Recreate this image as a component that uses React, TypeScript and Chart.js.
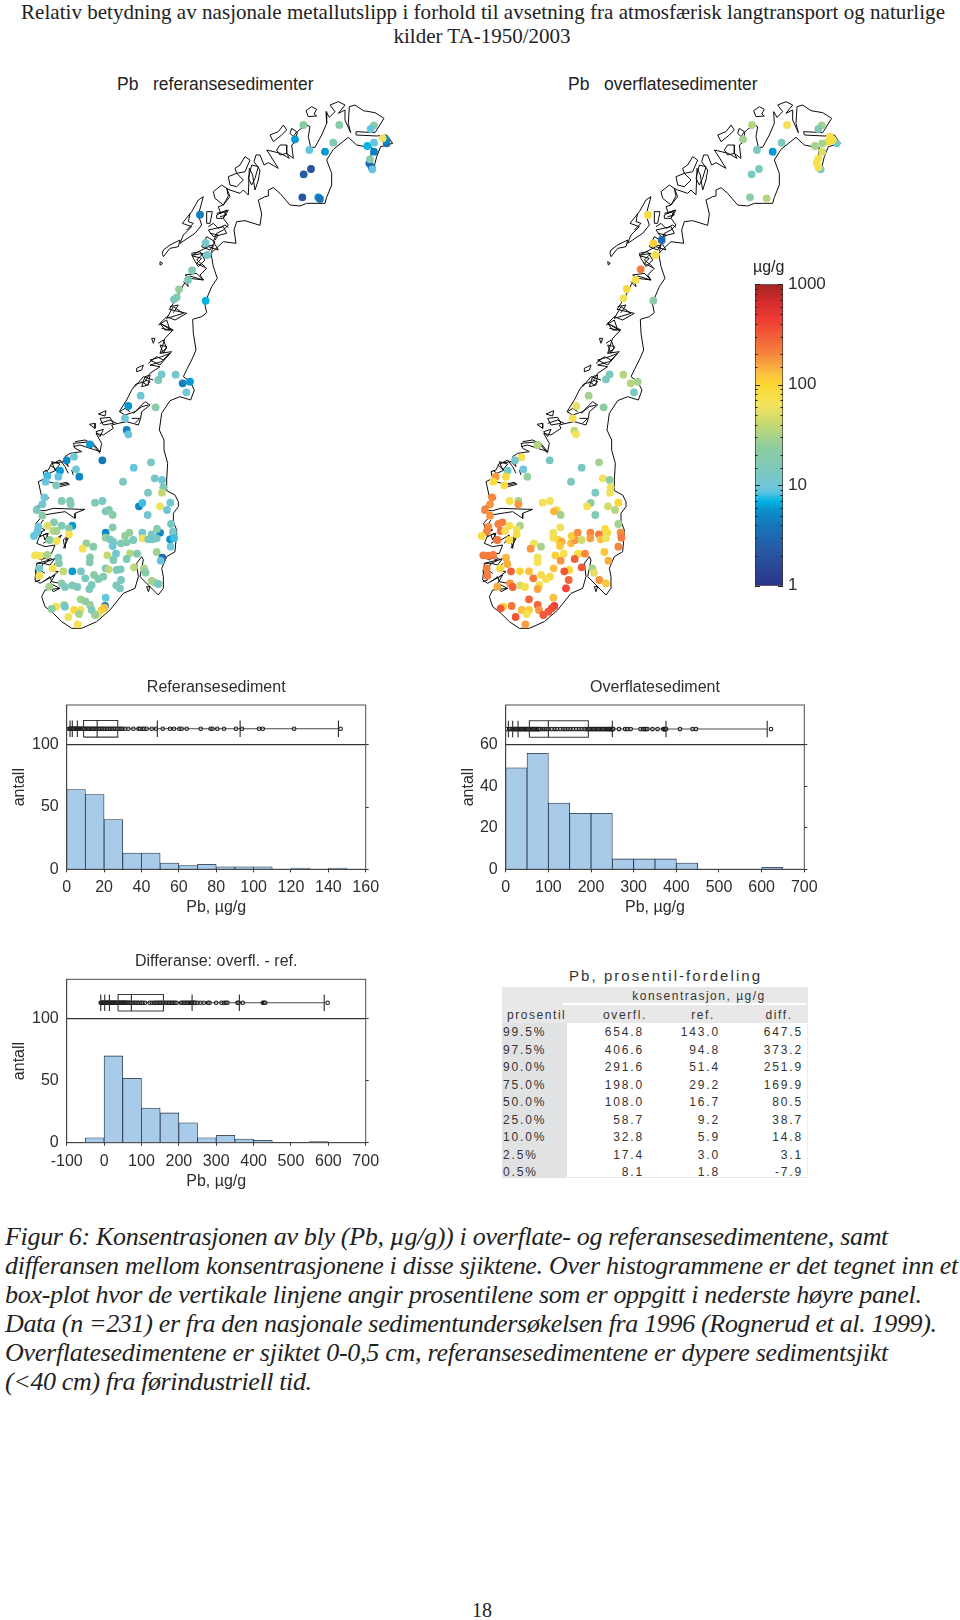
import React, { useEffect, useRef } from "react";
import { Chart, registerables } from "chart.js";
Chart.register(...registerables);

const SANS = '"Liberation Sans", Arial, sans-serif';
const SERIF = '"Liberation Serif", "Times New Roman", serif';
const INK = "#2e2e2e";

// ---------- text ----------
const titleLines = [
  "Relativ betydning av nasjonale metallutslipp i forhold til avsetning fra atmosfærisk langtransport og naturlige",
  "kilder TA-1950/2003",
];
const captionLines = [
  "Figur 6: Konsentrasjonen av bly (Pb, µg/g)) i overflate- og referansesedimentene, samt",
  "differansen mellom konsentrasjonene i disse sjiktene. Over histogrammene er det tegnet inn et",
  "box-plot hvor de vertikale linjene angir prosentilene som er oppgitt i nederste høyre panel.",
  "Data (n =231) er fra den nasjonale sedimentundersøkelsen fra 1996 (Rognerud et al. 1999).",
  "Overflatesedimentene er sjiktet 0-0,5 cm, referansesedimentene er dypere sedimentsjikt",
  "(<40 cm) fra førindustriell tid.",
];
const captionRightEdges = [888, 958, 921.7, 936.7, 888, 311.7];

// ---------- percentile table ----------
const tablePercentiles = ["99.5%", "97.5%", "90.0%", "75.0%", "50.0%", "25.0%", "10.0%", "2.5%", "0.5%"];
const tableOverfl = ["654.8", "406.6", "291.6", "198.0", "108.0", "58.7", "32.8", "17.4", "8.1"];
const tableRef = ["143.0", "94.8", "51.4", "29.2", "16.7", "9.2", "5.9", "3.0", "1.8"];
const tableDiff = ["647.5", "373.2", "251.9", "169.9", "80.5", "38.7", "14.8", "3.1", "-7.9"];

// ---------- histograms ----------
const refBinCenters = [5, 15, 25, 35, 45, 55, 65, 75, 85, 95, 105, 115, 125, 135, 145, 155];
const refCounts = [64, 60, 40, 13, 13, 5, 3, 4, 2, 2, 2, 0, 1, 0, 1, 0];
const surfBinCenters = [25, 75, 125, 175, 225, 275, 325, 375, 425, 475, 525, 575, 625, 675];
const surfCounts = [49, 56, 32, 27, 27, 5, 5, 5, 3, 0, 0, 0, 1, 0];
const diffBinCenters = [-75, -25, 25, 75, 125, 175, 225, 275, 325, 375, 425, 475, 525, 575, 625, 675];
const diffCounts = [0, 4, 70, 52, 28, 24, 16, 4, 6, 3, 2, 0, 0, 1, 0, 0];

// box plots: percentile bars, box [q1, q3], median, single samples
const refBars = [1.8, 3, 5.7, 48.5, 92.8, 145.4];
const refBox = [9, 27.3];
const refMedian = 16.3;
const refSamples = [1.2, 1.8, 2.2, 2.6, 3, 3.4, 3.8, 4.3, 4.7, 5.2, 5.6, 6.1, 6.6, 7.2, 7.8, 8.3, 8.9, 9.5, 10.1, 10.8, 11.5, 12.2, 12.9, 13.6, 14.3, 15, 15.8, 16.5, 17.3, 18.1, 19, 19.8, 20.7, 21.6, 22.4, 23.3, 24.2, 25.1, 26, 27, 28, 29, 30, 31.2, 33, 35.7, 38.4, 39.2, 40.7, 41.5, 42.8, 45.5, 47.8, 51.4, 55.3, 57.4, 60.3, 61.5, 64.2, 71.7, 77, 78, 80.6, 84.2, 90.6, 93.8, 102.9, 104.9, 121.7, 146.6];
const surfBars = [6.2, 16.4, 28.9, 250, 375.8, 613];
const surfBox = [55.5, 193.8];
const surfMedian = 100;
const surfSamples = [2, 8, 11, 14, 17, 20, 22, 24, 26, 28, 30, 32, 34, 36, 38, 40, 42, 44, 46, 48, 50, 52, 54, 56, 58, 60, 62, 64, 66, 68, 70, 72, 74, 76, 78, 80, 85, 90, 95, 100, 108, 115, 120, 128, 135, 140, 146, 152, 158, 165, 172, 178, 185, 190, 193, 196, 199, 202, 205, 208, 211, 214, 217, 220, 223, 226, 229, 232, 235, 238, 240, 242, 244, 246, 248, 249, 250, 251, 252, 265.6, 280, 285, 293, 316, 322, 326, 328, 332, 344, 356, 369.5, 371, 373, 374, 376, 408.6, 438, 446, 622];
const diffBars = [-8.9, 1.8, 14.3, 235.5, 362, 589];
const diffBox = [37.5, 158.8];
const diffMedian = 73;
const diffSamples = [-9, -7, -5, -3, -1, 0, 2, 4, 6, 8, 10, 12, 14, 16, 18, 20, 22, 24, 26, 28, 30, 32, 34, 36, 38, 40, 42, 44, 46, 48, 50, 52, 54, 56, 58, 60, 62, 65, 68, 71, 74, 78, 82, 86, 90, 95, 100, 104, 110, 122, 128, 134, 138, 142, 146, 150, 154, 158, 162, 166, 170, 174, 178, 182, 186, 190, 194, 206, 210, 214, 218, 222, 226, 230, 233, 236, 239, 241, 244, 250, 258, 267, 278, 282, 300, 314, 321, 326, 330, 357, 360, 371, 425, 428, 431, 598];

// ---------- colour scale (µg/g, log) ----------
const scaleStopPos = [0, 0.12, 0.2, 0.25, 0.28, 0.31, 0.33, 0.39, 0.46, 0.54, 0.6, 0.667, 0.7, 0.775, 0.88, 0.94, 1];
const scaleStopCol = ["#2b3488", "#2858a4", "#1577b9", "#0a8fcb", "#00b2e6", "#5cc3de", "#6fc7d8", "#7dc8b8", "#8fcda0", "#c8da70", "#f4e35c", "#fcd733", "#fbc43f", "#f6803d", "#ee3e34", "#d62b2b", "#a02626"];

function rgbOf(h: string) {
  return [parseInt(h.slice(1, 3), 16), parseInt(h.slice(3, 5), 16), parseInt(h.slice(5, 7), 16)];
}
function colorFor(v: number) {
  const t = Math.max(0, Math.min(1, Math.log10(v) / 3));
  let i = 0;
  while (i < scaleStopPos.length - 2 && t > scaleStopPos[i + 1]) i++;
  const f = (t - scaleStopPos[i]) / (scaleStopPos[i + 1] - scaleStopPos[i]);
  const a = rgbOf(scaleStopCol[i]);
  const b = rgbOf(scaleStopCol[i + 1]);
  return `rgb(${a.map((c, k) => Math.round(c + (b[k] - c) * f)).join(",")})`;
}

// ---------- map: [x, y, µg/g] in map units ----------
const refSites = [
  [880,105,22],[988,105,20],[855,148,6],[898,180,9],[945,185,6],[970,158,16],[903,237,2],[881,253,2.5],[877,322,2.2],[925,322,5.5],[930,327,4],[1092,106,22],[1082,117,9],[1130,160,3.5],[1128,150,5],[1118,145,60],[1092,158,9],[1072,168,7],[1092,185,4.5],[1078,220,3],[1085,232,3],[1080,208,20],[1087,238,9],[570,374,4.5],[587,459,12],[592,495,12],[546,541,16],[534,570,15],[507,598,25],[500,622,16],[492,628,15],[587,632,7],[455,853,11],[445,870,14],[497,854,11],[518,880,4.5],[540,875,6],[529,907,10],
  [392,917,10],[355,948,6],[437,952,20],[345,985,10],[350,1020,4.5],[355,1033,9],[240,1063,6],[192,1100,11],[170,1111,5],[277,1111,4],[423,1117,13],[150,1142,6],[198,1138,10],[371,1133,9],[208,1160,5],[112,1158,8],[145,1160,9],[107,1175,9],[139,1186,14],[339,1175,13],[434,1165,12],[456,1170,10],[460,1192,14],[414,1208,14],[456,1208,40],[103,1222,10],[155,1233,18],[180,1233,18],[182,1243,18],[97,1243,11],[255,1238,16],[277,1233,13],[387,1249,5],[397,1239,8],[450,1249,60],[481,1238,10],[471,1260,10],[80,1260,14],[287,1264,14],[297,1260,18],[308,1275,20],[413,1275,11],[97,1277,22],[483,1302,12],[132,1297,18],[113,1307,50],[155,1307,16],[187,1307,6],[177,1315,18],[85,1310,10],[82,1325,9],[308,1312,20],[287,1328,5.5],[397,1328,10],[450,1328,5],[441,1317,20],[425,1333,14],[489,1325,12],[490,1340,12],[72,1338,9],[130,1323,35],[140,1323,30],[177,1333,70],[119,1350,22],[140,1353,70],[229,1360,25],[250,1370,20],[287,1343,25],[300,1348,14],[310,1355,14],[333,1360,16],[350,1357,18],[345,1338,25],[358,1328,25],[370,1350,14],[398,1345,70],[415,1348,13],[428,1348,11],[440,1345,14],[480,1348,6],[492,1345,8],[482,1370,10],[308,1368,10],[218,1376,70],[292,1396,40],[318,1391,10],[360,1390,35],[381,1391,16],[440,1386,28],[75,1396,70],[90,1397,60],[112,1395,30],[145,1403,14],[240,1402,20],[310,1410,16],[350,1407,15],[457,1403,3],[452,1412,9],[147,1420,18],[239,1417,18],[88,1435,12],[128,1435,70],[372,1432,35],[402,1435,30],[160,1444,40],[187,1444,6],[213,1444,12],[287,1435,14],[296,1438,40],[320,1440,14],[332,1438,14],[407,1448,20],[252,1455,22],[280,1460,20],[88,1457,70],[226,1465,14],[265,1467,16],[333,1470,13],[425,1473,30],[435,1478,28],[445,1482,12],[155,1480,22],[165,1491,14],[187,1486,16],[202,1491,14],[245,1485,14],[238,1497,14],[319,1486,14],[330,1495,14],[118,1490,30],[287,1523,9],[212,1528,28],[226,1534,24],[240,1545,25],[285,1548,4],[162,1545,28],[138,1550,70],[125,1557,22],[165,1550,12],[192,1560,90],[212,1560,60],[245,1560,15],[283,1553,130],[275,1560,110],[265,1572,55],[207,1572,30],[175,1581,60],[255,1575,25],[203,1603,70],
];
const surfSites = [
  [876,105,35],[981,105,70],[849,148,28],[891,180,13],[938,185,6],[965,158,14],[897,237,14],[875,253,13],[870,322,22],[920,325,35],[1085,106,28],[1075,117,16],[1130,160,12],[1110,140,80],[1118,150,80],[1105,155,80],[1087,160,30],[1065,168,30],[1087,185,50],[1082,238,14],[1075,205,75],[1070,218,75],[1075,232,75],[564,375,90],[605,450,3],[580,460,110],[586,495,75],[542,538,220],[527,570,75],[500,597,85],[490,625,60],[580,632,22],[449,853,14],[438,868,13],[490,854,35],[512,880,35],[533,875,30],[522,907,14],
  [386,917,30],[349,948,55],[431,952,22],[338,985,70],[343,1022,40],[348,1033,65],[233,1065,35],[184,1102,75],[165,1111,11],[269,1111,12],[417,1117,30],[143,1142,12],[190,1138,10],[365,1133,13],[202,1160,25],[107,1160,180],[138,1160,90],[100,1175,85],[133,1186,85],[333,1175,14],[428,1165,65],[449,1170,22],[452,1192,60],[406,1208,13],[450,1208,60],[96,1222,200],[149,1233,75],[175,1233,30],[175,1243,180],[90,1243,180],[248,1238,70],[270,1233,65],[392,1239,22],[381,1249,70],[444,1249,45],[475,1238,100],[465,1260,35],[75,1260,200],[291,1260,60],[282,1264,140],[302,1275,30],[406,1275,18],[90,1277,180],[475,1302,30],[127,1297,210],[115,1302,210],[148,1307,70],[180,1307,30],[170,1318,60],[85,1310,190],[80,1325,210],[301,1312,60],[280,1328,60],[391,1328,200],[435,1317,85],[442,1328,85],[417,1333,220],[482,1328,190],[484,1343,230],[65,1338,80],[122,1323,240],[135,1323,70],[170,1333,85],[112,1350,240],[148,1350,85],[222,1360,60],[243,1370,30],[280,1343,70],[295,1350,90],[305,1355,150],[333,1360,130],[345,1350,180],[335,1338,110],[353,1328,190],[365,1350,45],[391,1345,170],[422,1348,130],[438,1345,60],[475,1370,200],[300,1368,120],[212,1376,180],[286,1396,110],[311,1391,75],[354,1391,85],[375,1391,200],[433,1386,120],[70,1396,220],[85,1397,220],[100,1395,220],[138,1403,140],[233,1402,60],[302,1412,180],[344,1407,300],[445,1412,150],[142,1422,150],[233,1417,70],[80,1435,220],[120,1435,90],[397,1435,30],[365,1432,320],[153,1444,290],[180,1444,100],[207,1444,130],[281,1435,130],[243,1455,80],[327,1440,100],[313,1444,320],[402,1448,55],[270,1460,85],[258,1467,70],[82,1457,220],[220,1465,220],[326,1470,280],[418,1470,180],[438,1480,120],[150,1480,180],[158,1491,290],[180,1486,50],[195,1491,75],[238,1485,70],[233,1497,160],[318,1495,400],[112,1490,150],[280,1523,130],[207,1528,280],[233,1545,290],[283,1548,430],[155,1548,240],[130,1550,110],[122,1555,320],[185,1560,130],[207,1560,110],[237,1560,180],[275,1555,380],[265,1565,340],[200,1572,75],[167,1581,330],[250,1575,320],[196,1603,170],
];

// ---------- map outline ----------
const mainland = [
  [445,1515],[460,1495],[460,1460],[455,1435],[470,1400],[495,1385],[498,1350],[500,1320],[490,1295],[490,1270],[505,1250],[505,1235],[495,1215],[470,1202],[470,1170],[473,1120],[462,1080],[462,1050],[448,1020],[455,970],[480,932],[510,920],[542,930],[553,900],[540,875],[520,860],[532,835],[545,810],[558,780],[550,730],[548,688],[575,680],[590,668],[584,640],[605,590],[622,565],[610,530],[603,490],[640,455],[678,460],[672,420],[680,395],[705,392],[750,406],[755,372],[745,330],[765,320],[775,318],[775,300],[790,293],[810,310],[840,345],[870,348],[890,340],[945,340],[950,322],[965,285],[965,250],[950,210],[970,178],[1015,142],[1040,165],[1065,170],[1085,172],[1082,205],[1090,240],[1100,200],[1112,170],[1148,160],[1130,135],[1100,138],[1040,135],[1038,125],[1095,128],[1122,85],[1095,68],[1060,62],[1035,45],[1018,50],[1015,100],[1022,128],[1005,90],[1005,60],[985,70],[1005,45],[985,35],[960,45],[975,65],[958,82],[948,65],[950,100],[935,135],[915,172],[902,172],[895,140],[900,110],[890,105],[870,118],[862,125],[858,145],[865,150],[845,165],[850,205],[830,190],[838,205],[812,190],[770,180],[780,195],[805,235],[775,218],[762,225],[750,195],[738,195],[732,215],[750,240],[745,270],[735,300],[728,255],[718,235],[715,315],[700,300],[690,310],[660,300],[650,295],[655,318],[640,345],[625,350],[632,370],[655,360],[640,385],[655,405],[640,420],[620,430],[610,455],[625,480],[595,470],[560,488],[545,497],[575,505],[560,520],[590,535],[570,555],[580,570],[540,558],[520,585],[505,615],[490,640],[478,658],[530,670],[495,690],[470,680],[450,700],[487,722],[465,745],[450,790],[485,785],[455,815],[420,825],[450,830],[420,850],[405,875],[378,882],[365,900],[350,930],[328,965],[345,975],[375,965],[405,935],[420,945],[395,965],[392,985],[385,1005],[350,995],[325,1000],[305,1005],[310,1015],[280,1035],[258,1030],[275,1060],[270,1085],[245,1055],[190,1060],[195,1075],[215,1085],[180,1090],[165,1100],[175,1130],[160,1115],[125,1120],[115,1140],[100,1145],[105,1165],[85,1175],[95,1220],[115,1222],[90,1250],[72,1262],[105,1262],[130,1255],[210,1258],[225,1258],[195,1270],[195,1285],[165,1265],[100,1275],[78,1300],[90,1340],[95,1325],[80,1360],[105,1370],[135,1365],[125,1390],[75,1395],[120,1410],[80,1420],[75,1470],[90,1480],[135,1455],[120,1480],[150,1495],[105,1500],[95,1520],[105,1550],[130,1570],[155,1595],[185,1615],[215,1615],[260,1595],[300,1560],[340,1510],[375,1495],[385,1460],[380,1420],[395,1400],[400,1410],[390,1460],[415,1485],[445,1515],
];
const islands = [
  [[888,62],[905,50],[920,58],[912,72],[920,78],[895,80],[888,62]],
  [[820,105],[830,120],[815,135],[790,155],[780,135],[805,125],[820,105]],
  [[845,115],[860,125],[850,140],[840,130],[845,115]],
  [[810,165],[830,165],[830,190],[810,195],[800,180],[810,165]],
  [[690,225],[705,200],[720,210],[705,245],[680,250],[675,235],[690,225]],
  [[725,225],[745,230],[735,265],[725,285],[715,265],[725,225]],
  [[655,260],[680,250],[700,270],[680,290],[660,285],[655,260]],
  [[610,305],[635,285],[650,295],[660,320],[640,345],[615,325],[610,305]],
  [[580,320],[565,375],[575,405],[555,430],[510,460],[520,435],[545,410],[517,400],[545,365],[565,330],[580,320]],
  [[460,480],[480,465],[510,450],[505,470],[480,475],[460,500],[457,490],[460,480]],
  [[450,515],[458,520],[452,525],[450,515]],
  [[590,365],[607,365],[600,400],[590,400],[590,365]],
  [[620,375],[650,360],[640,385],[620,385],[620,375]],
  [[595,420],[640,410],[650,430],[610,440],[595,420]],
  [[590,440],[615,455],[600,480],[575,470],[590,440]],
  [[545,490],[570,485],[585,510],[565,530],[550,505],[545,490]],
  [[525,555],[560,550],[580,570],[540,565],[525,555]],
  [[490,650],[520,670],[470,685],[490,650]],
  [[450,700],[490,720],[465,720],[450,700]],
  [[425,745],[435,745],[430,760],[425,745]],
  [[450,765],[470,770],[460,790],[450,765]],
  [[420,810],[455,800],[480,790],[450,825],[420,810]],
  [[380,835],[400,825],[395,840],[380,845],[380,835]],
  [[405,860],[420,855],[415,885],[395,890],[405,860]],
  [[265,972],[288,962],[285,978],[265,972]],
  [[238,1003],[255,1000],[255,1015],[238,1003]],
  [[270,985],[300,982],[310,1000],[280,1005],[270,985]],
  [[258,1025],[280,1018],[270,1040],[258,1025]],
  [[125,1115],[150,1122],[135,1140],[125,1115]],
  [[130,1185],[170,1177],[178,1183],[150,1190],[130,1185]],
  [[100,1335],[115,1330],[105,1350],[100,1335]],
  [[100,1420],[135,1405],[120,1425],[100,1420]],
  [[160,1350],[170,1340],[165,1375],[160,1350]],
  [[410,1490],[420,1490],[415,1505],[410,1490]],
];
const fjordLines = [
  [[595,410],[610,400],[625,415],[645,405],[655,412]],
  [[600,430],[625,435],[615,450]],
  [[585,470],[610,465],[605,485]],
  [[620,370],[640,365],[650,375],[630,380]],
  [[540,370],[535,395],[550,400],[530,420]],
  [[550,495],[580,490],[560,510],[585,530]],
  [[520,575],[535,590],[530,570]],
  [[480,650],[505,645],[490,668]],
  [[445,705],[470,690],[480,720],[455,715]],
  [[445,760],[460,750],[470,775],[450,790]],
  [[415,820],[440,800],[460,810],[480,790]],
  [[375,890],[400,860],[430,870]],
  [[395,875],[410,885],[420,875],[405,870]],
  [[330,965],[345,955],[360,965]],
  [[365,985],[390,985],[375,1000]],
  [[370,970],[395,950],[415,945]],
  [[270,1000],[300,990],[320,1000]],
  [[195,1055],[225,1050],[245,1060],[270,1090]],
  [[190,1070],[210,1065],[240,1075],[272,1085]],
  [[130,1120],[150,1110],[165,1130],[175,1150]],
  [[120,1125],[140,1140],[118,1150],[105,1140]],
  [[185,1140],[190,1155]],
  [[115,1175],[150,1185],[175,1180]],
  [[95,1240],[115,1225],[100,1225]],
  [[80,1255],[100,1245],[75,1250]],
  [[100,1290],[85,1310],[105,1320],[85,1330]],
  [[90,1340],[110,1330],[115,1350],[100,1360]],
  [[130,1350],[155,1335],[140,1360]],
  [[160,1375],[175,1345],[165,1350]],
  [[75,1400],[95,1410],[110,1400],[130,1410]],
  [[80,1420],[100,1420],[90,1440],[105,1450]],
  [[75,1440],[90,1470],[75,1475]],
  [[135,1420],[120,1440],[145,1445],[125,1460]],
  [[100,1475],[120,1460],[125,1475],[150,1480]],
  [[120,1490],[130,1505],[150,1495]],
];

// ---------- helpers ----------
const framePlugin = {
  id: "frame",
  afterDraw(chart: any) {
    const a = chart.chartArea;
    const c = chart.ctx;
    c.save();
    c.strokeStyle = "#4a4a4a";
    c.lineWidth = 1;
    c.strokeRect(a.left, a.top, a.right - a.left, a.bottom - a.top);
    c.restore();
  },
};

type Hist = {
  left: number; top: number; w: number; h: number;
  plotLeft: number; plotRight: number; plotTop: number; plotBottom: number;
  xMin: number; xMax: number; xStep: number; yMax: number; yTicks: number[]; yRule: number;
  bins: number[]; counts: number[];
  bars: number[]; box: number[]; median: number; samples: number[];
  boxY: number; boxHalf: number; yTitleX: number; title?: string;
};

function histConfig(h: Hist): any {
  const font = { family: SANS, size: 16, weight: "normal" as const, lineHeight: 1.2 };
  const vline = (x: number) => ({
    type: "scatter", showLine: true, pointRadius: 0, borderColor: "#2a2a2a", borderWidth: 1.1,
    data: [{ x, y: h.boxY - h.boxHalf }, { x, y: h.boxY + h.boxHalf }],
  });
  const top = h.boxY + h.boxHalf, bot = h.boxY - h.boxHalf;
  const titleH = h.plotTop - h.top;
  return {
    type: "bar",
    data: {
      datasets: [
        { type: "bar", order: 5, data: h.bins.map((x, i) => ({ x, y: h.counts[i] })), backgroundColor: "#a9cbea", borderColor: "#24303f", borderWidth: 0.8, barPercentage: 1, categoryPercentage: 1 },
        { type: "scatter", order: 4, showLine: true, pointRadius: 0, borderColor: "#4a4a4a", borderWidth: 1.1, data: [{ x: h.bars[0], y: h.boxY }, { x: h.bars[5], y: h.boxY }] },
        { type: "scatter", order: 3, pointRadius: 1.8, pointBackgroundColor: "rgba(255,255,255,0.3)", pointBorderColor: "#1c1c1c", pointBorderWidth: 1.1, data: h.samples.map((x) => ({ x, y: h.boxY })) },
        { type: "scatter", order: 2, showLine: true, pointRadius: 0, borderColor: "#3a3a3a", borderWidth: 1.1, data: [{ x: h.box[0], y: bot }, { x: h.box[1], y: bot }, { x: h.box[1], y: top }, { x: h.box[0], y: top }, { x: h.box[0], y: bot }] },
        { ...vline(h.median), order: 1 },
        ...h.bars.map((b) => ({ ...vline(b), order: 1 })),
      ],
    },
    options: {
      responsive: false, animation: false, events: [],
      layout: { padding: { top: 0, left: 0, bottom: 0, right: h.left + h.w - h.plotRight - 4 } },
      plugins: {
        legend: { display: false }, tooltip: { enabled: false },
        title: { display: !!h.title, text: h.title, fullSize: false, color: INK, font, padding: { top: 0, bottom: titleH - 19.2 } },
      },
      scales: {
        x: {
          type: "linear", position: "bottom", min: h.xMin, max: h.xMax, offset: false,
          grid: { offset: false, drawOnChartArea: false, tickColor: "#333", tickLength: 3, color: "#333" },
          border: { color: "#333" },
          ticks: { stepSize: h.xStep, autoSkip: false, maxRotation: 0, color: INK, font, padding: 6, callback: (v: number) => String(v) },
          title: { display: true, text: "Pb, µg/g", color: INK, font, padding: { top: 0, bottom: 0.4 } },
          afterFit: (s: any) => { s.height = h.top + h.h - h.plotBottom; },
        },
        y: {
          type: "linear", position: "left", min: 0, max: h.yMax,
          afterBuildTicks: (s: any) => { s.ticks = h.yTicks.map((value) => ({ value })); },
          grid: { drawTicks: false, lineWidth: (c: any) => (c.tick && c.tick.value === h.yRule ? 1.2 : 0), color: "#333" },
          border: { color: "#333" },
          ticks: { color: INK, font, padding: 8, callback: (v: number) => String(v) },
          title: { display: true, text: "antall", color: INK, font, padding: { top: h.yTitleX - h.left - 9.6, bottom: 0 } },
          afterFit: (s: any) => { s.width = h.plotLeft - h.left; },
        },
        y2: {
          type: "linear", position: "right", min: 0, max: h.yMax,
          afterBuildTicks: (s: any) => { s.ticks = h.yTicks.map((value) => ({ value })); },
          grid: { drawOnChartArea: false, tickLength: 3, tickColor: "#333", color: "#333" },
          border: { display: false },
          ticks: { display: false },
          afterFit: (s: any) => { s.width = 4; },
        },
      },
    },
    plugins: [framePlugin],
  };
}

function mapConfig(sites: number[][], outlineShift: number): any {
  const outline = [mainland, ...islands, ...fjordLines];
  return {
    type: "scatter",
    data: {
      datasets: [
        { order: 0, data: sites.map((s) => ({ x: s[0], y: s[1] })), pointRadius: 3.9, pointBorderWidth: 0, pointBackgroundColor: sites.map((s) => colorFor(s[2])) },
        ...outline.map((line) => ({
          order: 1, showLine: true, pointRadius: 0, borderColor: "#0c0c0c", borderWidth: 1, tension: 0,
          data: line.map((p) => ({ x: p[0] + outlineShift, y: p[1] })),
        })),
      ],
    },
    options: {
      responsive: false, animation: false, events: [],
      layout: { padding: 0, autoPadding: false },
      plugins: { legend: { display: false }, tooltip: { enabled: false } },
      scales: {
        x: { type: "linear", display: false, min: 0, max: 1320 },
        y: { type: "linear", display: false, min: 0, max: 1650, reverse: true },
      },
    },
  };
}

const scaleMajors = [1, 10, 100, 1000];
const scaleExtent = [[1, 1000]];
const scaleMarks = {
  id: "scaleMarks",
  afterDatasetsDraw(chart: any) {
    const a = chart.chartArea, s = chart.scales.y, c = chart.ctx;
    c.save();
    c.strokeStyle = "#222";
    c.lineWidth = 1;
    s.ticks.forEach((t: any) => {
      const y = Math.round(s.getPixelForValue(t.value)) + 0.5;
      const len = scaleMajors.includes(t.value) ? 5 : 2.5;
      c.beginPath();
      c.moveTo(a.left, y); c.lineTo(a.left + len, y);
      c.moveTo(a.right - len, y); c.lineTo(a.right, y);
      c.stroke();
    });
    c.restore();
  },
};
function scaleConfig(): any {
  return {
    type: "bar",
    data: {
      labels: [""],
      datasets: [{
        data: scaleExtent, barPercentage: 1, categoryPercentage: 1, borderWidth: 1, borderColor: "#3a2a2a", borderSkipped: false,
        backgroundColor: (ctx: any) => {
          const a = ctx.chart.chartArea;
          if (!a) return "#888";
          const g = ctx.chart.ctx.createLinearGradient(0, a.bottom, 0, a.top);
          scaleStopPos.forEach((p, i) => g.addColorStop(p, scaleStopCol[i]));
          return g;
        },
      }],
    },
    options: {
      responsive: false, animation: false, events: [],
      layout: { padding: { top: 8, bottom: 8, left: 0, right: 0 } },
      plugins: { legend: { display: false }, tooltip: { enabled: false } },
      scales: {
        x: { display: false },
        y: {
          type: "logarithmic", position: "right", min: 1, max: 1000,
          grid: { display: false, drawTicks: false }, border: { display: false },
          ticks: { autoSkip: false, color: INK, font: { family: SANS, size: 17 }, padding: 5, callback: (v: number) => (scaleMajors.includes(v) ? String(v) : "") },
          afterFit: (s: any) => { s.width = 50; },
        },
      },
    },
    plugins: [scaleMarks],
  };
}

function Cv({ left, top, w, h, make }: { left: number; top: number; w: number; h: number; make: () => any }) {
  const ref = useRef<HTMLCanvasElement>(null);
  useEffect(() => {
    const c = new Chart(ref.current as HTMLCanvasElement, make());
    return () => c.destroy();
  }, []);
  return <canvas ref={ref} width={w} height={h} style={{ position: "absolute", left, top, width: w, height: h, display: "block" }} />;
}

const measureCtx = document.createElement("canvas").getContext("2d") as CanvasRenderingContext2D;
function fitSpacing(text: string, font: string, target: number) {
  measureCtx.font = font;
  return (target - measureCtx.measureText(text).width) / text.length;
}

function T({ x, y, size, children, serif, italic, align, spacing, color }: any) {
  const tr = align === "center" ? "translateX(-50%)" : align === "right" ? "translateX(-100%)" : undefined;
  return (
    <div style={{ position: "absolute", left: x, top: y - 0.9 * size, transform: tr, whiteSpace: "pre", fontFamily: serif ? SERIF : SANS, fontStyle: italic ? "italic" : "normal", fontSize: size, lineHeight: "normal", letterSpacing: spacing || 0, color: color || "#222" }}>
      {children}
    </div>
  );
}

const hist1: Hist = { left: 0, top: 678, w: 440, h: 240, plotLeft: 66.7, plotRight: 365.7, plotTop: 705, plotBottom: 869.3, xMin: 0, xMax: 160, xStep: 20, yMax: 132, yTicks: [0, 50, 100], yRule: 100, bins: refBinCenters, counts: refCounts, bars: refBars, box: refBox, median: refMedian, samples: refSamples, boxY: 112.9, boxHalf: 6.7, yTitleX: 20, title: "Referansesediment" };
const hist2: Hist = { left: 440, top: 678, w: 400, h: 240, plotLeft: 505.7, plotRight: 804.3, plotTop: 705, plotBottom: 869.3, xMin: 0, xMax: 700, xStep: 100, yMax: 79.3, yTicks: [0, 20, 40, 60], yRule: 60, bins: surfBinCenters, counts: surfCounts, bars: surfBars, box: surfBox, median: surfMedian, samples: surfSamples, boxY: 67.7, boxHalf: 4, yTitleX: 468.3, title: "Overflatesediment" };
const hist3: Hist = { left: 0, top: 952, w: 440, h: 240, plotLeft: 66.7, plotRight: 365.7, plotTop: 979.3, plotBottom: 1142.7, xMin: -100, xMax: 700, xStep: 100, yMax: 131.8, yTicks: [0, 50, 100], yRule: 100, bins: diffBinCenters, counts: diffCounts, bars: diffBars, box: diffBox, median: diffMedian, samples: diffSamples, boxY: 112.9, boxHalf: 6.7, yTitleX: 20, title: "Differanse: overfl. - ref." };

const rowY = [1036, 1053.5, 1071, 1088.5, 1106, 1123.5, 1141, 1158.5, 1176];
const TBL = "#333";

export default function App() {
  const titleFont = `21px ${SERIF}`;
  const capFont = `italic 26px ${SERIF}`;
  return (
    <div style={{ position: "absolute", left: 0, top: 0, width: 960, height: 1620, background: "#fff", overflow: "hidden" }}>
      <T x={21} y={18.5} size={21} serif spacing={fitSpacing(titleLines[0], titleFont, 924)}>{titleLines[0]}</T>
      <T x={482} y={42.7} size={21} serif align="center">{titleLines[1]}</T>
      <T x={117} y={90} size={17.5}>{"Pb   referansesedimenter"}</T>
      <T x={568} y={90} size={17.5}>{"Pb   overflatesedimenter"}</T>

      <Cv left={10} top={90} w={440} h={550} make={() => mapConfig(refSites, 0)} />
      <Cv left={460} top={90} w={440} h={550} make={() => mapConfig(surfSites, -7)} />

      <T x={753} y={272} size={16}>µg/g</T>
      <Cv left={755} top={269} w={78} h={332} make={scaleConfig} />

      <Cv left={hist1.left} top={hist1.top} w={hist1.w} h={hist1.h} make={() => histConfig(hist1)} />
      <Cv left={hist2.left} top={hist2.top} w={hist2.w} h={hist2.h} make={() => histConfig(hist2)} />
      <Cv left={hist3.left} top={hist3.top} w={hist3.w} h={hist3.h} make={() => histConfig(hist3)} />

      {/* table */}
      <div style={{ position: "absolute", left: 502, top: 987, width: 306, height: 36, background: "#e8e8e8" }} />
      <div style={{ position: "absolute", left: 502, top: 1023, width: 65, height: 155, background: "#e1e2e4" }} />
      <div style={{ position: "absolute", left: 563, top: 1003, width: 243, height: 2, background: "#fff" }} />
      <div style={{ position: "absolute", left: 567, top: 1177, width: 241, height: 1, background: "#e8e8e8" }} />
      <div style={{ position: "absolute", left: 807, top: 1023, width: 1, height: 155, background: "#eeeeee" }} />
      <T x={569} y={980} size={15} spacing={2.05} color={TBL}>Pb, prosentil-fordeling</T>
      <T x={699} y={1000} size={12} align="center" spacing={1.5} color={TBL}>konsentrasjon, µg/g</T>
      <T x={507} y={1019} size={12} spacing={1.55} color={TBL}>prosentil</T>
      <T x={625} y={1019} size={12} align="center" spacing={1.6} color={TBL}>overfl.</T>
      <T x={703} y={1019} size={12} align="center" spacing={1.6} color={TBL}>ref.</T>
      <T x={779} y={1019} size={12} align="center" spacing={1.6} color={TBL}>diff.</T>
      {tablePercentiles.map((p, i) => (
        <React.Fragment key={p}>
          <T x={503} y={rowY[i]} size={12} spacing={1.85} color={TBL}>{p}</T>
          <T x={644} y={rowY[i]} size={12} align="right" spacing={1.85} color={TBL}>{tableOverfl[i]}</T>
          <T x={720} y={rowY[i]} size={12} align="right" spacing={1.85} color={TBL}>{tableRef[i]}</T>
          <T x={803} y={rowY[i]} size={12} align="right" spacing={1.85} color={TBL}>{tableDiff[i]}</T>
        </React.Fragment>
      ))}

      {captionLines.map((l, i) => (
        <T key={i} x={5} y={1245.7 + i * 29} size={26} serif italic spacing={fitSpacing(l, capFont, captionRightEdges[i] - 5)}>{l}</T>
      ))}
      <T x={482} y={1617} size={20} serif align="center">18</T>
    </div>
  );
}
